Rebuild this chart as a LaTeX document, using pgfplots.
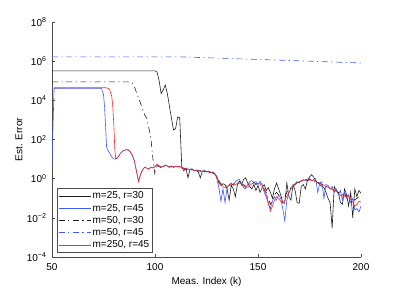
\documentclass[border=0pt]{standalone}
\usepackage{fontspec}
\setmainfont{Liberation Sans}
\usepackage{pgfplots}
\pgfplotsset{compat=1.18}
\definecolor{mblue}{RGB}{60,90,255}
\definecolor{mred}{RGB}{255,40,40}
\definecolor{mblack}{RGB}{30,30,30}
\begin{document}
\begin{tikzpicture}
\useasboundingbox (0,0) rectangle (399pt,292pt);
\begin{axis}[
  at={(52pt,35pt)}, anchor=south west,
  scale only axis, width=309pt, height=235pt,
  ymode=log, xmin=50, xmax=200, ymin=1e-4, ymax=1e8,
  axis lines*=left,
  axis line style={black!70, line width=0.5pt, -},
  tick align=inside,
  tick style={black!70, line width=0.5pt},
  major tick length=3pt,
  xtick={50,100,150,200},
  ytick={1e-4,1e-2,1,1e2,1e4,1e6,1e8},
  yticklabels={10\textsuperscript{−4},10\textsuperscript{−2},10\textsuperscript{0},10\textsuperscript{2},10\textsuperscript{4},10\textsuperscript{6},10\textsuperscript{8}},
  yminorticks=false, xminorticks=false,
  /pgf/number format/assume math mode=true,
  tick label style={font=\fontsize{10}{12}\selectfont},
  xticklabel style={yshift=-3pt},
  yticklabel style={xshift=-2pt},
  xlabel={Meas. Index (k)}, ylabel={Est. Error},
  label style={font=\fontsize{10}{12}\selectfont},
  xlabel style={at={(axis description cs:0.5,-0.106)}, anchor=center},
  ylabel style={at={(axis description cs:-0.107,0.5)}, anchor=center},
  legend style={at={(axis description cs:0.015,0.018)}, anchor=south west,
    draw=black!70, line width=0.5pt, inner sep=1.5pt,
    font=\fontsize{10}{12}\selectfont,
    nodes={inner sep=1.6pt, text height=7.2pt, text depth=1.8pt}},
  legend cell align=left,
  legend image code/.code={\draw[#1] (0pt,0pt) -- (32pt,0pt);},
  every axis plot/.append style={line width=0.6pt},
]
% m=25, r=30
\addplot[mblack] coordinates {
(50,3.2e5) (100,3.2e5) (101,2.8e5) (102,1e5) (103,2.2e4) (104,3.5e4) (105,6e4) (106,2.2e4)
(107,5e3) (108,1.2e3) (109,3e2) (110,3.6e2) (111,1.4e3) (112,1.3e3) (113,4.0)
(114,2.5) (115,3.5) (116,1.1) (117,3.0) (118,3.2) (119,2.5) (120,2.8) (121,2.2) (122,1.1)
(123,2.4) (124,2.6) (125,2.3) (126,2.4) (127,2.0) (128,2.2) (129,1.7) (130,1.3) (131,0.6)
(132,0.45) (133,0.55) (134,0.5) (135,0.3) (136,0.08) (137,0.45) (138,0.3) (139,0.12) (140,0.5)
(141,0.75) (142,0.5) (143,0.9) (144,1.1) (145,0.6) (146,0.4) (147,0.3) (148,0.5) (149,0.25)
(150,0.45) (151,0.2) (152,0.35) (153,0.5) (154,0.25) (155,0.35) (156,0.2) (157,0.1) (158,0.3)
(159,0.6) (160,0.3) (161,0.15) (162,0.06) (163,0.055) (164,0.6) (165,0.12) (166,0.08) (167,0.5)
(168,0.25) (169,0.06) (170,0.055) (171,0.4) (172,0.5) (173,0.3) (174,0.8) (175,1.2) (176,1.6)
(177,1.2) (178,0.8) (179,0.6) (180,0.5) (181,0.4) (182,0.35) (183,0.2) (184,0.1) (185,0.06)
(186,0.003) (187,0.4) (188,0.25) (189,0.2) (190,0.06) (191,0.05) (192,0.3) (193,0.15) (194,0.04)
(195,0.2) (196,0.01) (197,0.3) (198,0.12) (199,0.25) (200,0.18)
};
\addlegendentry{m=25, r=30}
% m=25, r=45
\addplot[mblue] coordinates {
(50,5) (51,4.1e4) (74,4.1e4) (75,2e4) (75.5,5e3) (76,5e2) (76.5,40) (77,30) (78,20) (79,13)
(80,10) (81,10.5) (82,12.5) (83,18) (84,24) (85,28) (86,30) (87,29) (88,23) (89,15) (90,7.5)
(91,2.4) (92,0.75) (93,1.7) (94,2.9) (95,3.8) (96,3.5) (97,3.0) (98,3.7) (99,3.6) (100,4.2)
(101,5.0) (102,4.6) (103,4.0) (104,4.4) (105,4.8) (106,4.3) (107,4.0) (108,4.4) (109,3.8)
(110,4.2) (111,4.0) (112,4.1) (113,3.7) (114,3.5) (115,3.1) (116,3.2) (117,2.9) (118,2.9)
(119,2.6) (120,2.7) (121,2.4) (122,2.6) (123,2.3) (124,2.4) (125,2.2) (126,2.3) (127,2.0)
(128,2.1) (129,1.9) (130,1.0) (131,0.35) (132,0.07) (133,0.3) (134,0.06) (135,0.35) (136,0.5)
(137,0.6) (138,0.45) (139,0.7) (140,0.85) (141,0.9) (142,0.6) (143,0.35) (144,0.3) (145,0.5)
(146,0.7) (147,0.8) (148,0.65) (149,0.7) (150,0.5) (151,0.75) (152,0.5) (153,0.2) (154,0.12)
(155,0.05) (156,0.03) (157,0.07) (158,0.12) (159,0.08) (160,0.15) (161,0.1) (162,0.03)
(163,0.007) (164,0.08) (165,0.18) (166,0.35) (167,0.45) (168,0.55) (169,0.7) (170,0.6)
(171,0.8) (172,0.9) (173,0.8) (174,0.95) (175,1.0) (176,0.8) (177,0.9) (178,1.0) (179,0.2)
(180,0.6) (181,0.7) (182,0.1) (183,0.5) (184,0.45) (185,0.3) (186,0.4) (187,0.2) (188,0.3)
(189,0.15) (190,0.25) (191,0.08) (192,0.2) (193,0.1) (194,0.15) (195,0.06) (196,0.1)
(197,0.025) (198,0.03) (199,0.02) (200,0.04)
};
\addlegendentry{m=25, r=45}
% m=50, r=30
\addplot[mblack, dash pattern=on 6pt off 3.5pt on 1.2pt off 3.5pt] coordinates {
(50,8.7e4) (88,8.7e4) (89,8.0e4) (90,5e4) (91,2.5e4) (92,1.3e4) (93,7e3) (94,3.5e3) (95,1.8e3)
(96,1.2e3) (97,4e2) (98,1.2e2) (99,10) (100,1.5) (101,4.5) (102,4.2) (103,3.5) (104,4.0)
(105,4.6) (106,4.2) (107,3.9) (108,4.3) (109,3.8) (110,4.2) (111,4.1) (112,4.0) (113,3.5)
(114,3.4) (115,3.0) (116,3.1) (117,2.9) (118,2.8) (119,2.8) (120,2.5) (121,2.6) (122,2.4)
(123,2.4) (124,2.2) (125,2.4) (126,2.1) (127,2.2) (128,1.9) (129,1.8) (130,1.2) (131,0.8)
(132,0.55) (133,0.5) (134,0.4) (135,0.5) (136,0.5) (137,0.45) (138,0.55) (139,0.5) (140,0.6)
(141,0.55) (142,0.45) (143,0.5) (144,0.4) (145,0.45) (146,0.55) (147,0.5) (148,0.65) (149,0.5)
(150,0.6) (151,0.5) (152,0.4) (153,0.3) (154,0.2) (155,0.1) (156,0.05) (157,0.08) (158,0.15)
(159,0.2) (160,0.15) (161,0.12) (162,0.1) (163,0.12) (164,0.2) (165,0.25) (166,0.35) (167,0.45)
(168,0.5) (169,0.65) (170,0.6) (171,0.75) (172,0.8) (173,0.9) (174,0.8) (175,0.9) (176,0.85)
(177,0.75) (178,0.8) (179,0.65) (180,0.6) (181,0.5) (182,0.5) (183,0.4) (184,0.4) (185,0.3)
(186,0.3) (187,0.25) (188,0.25) (189,0.2) (190,0.18) (191,0.15) (192,0.15) (193,0.13)
(194,0.15) (195,0.12) (196,0.1) (197,0.08) (198,0.1) (199,0.12) (200,0.15)
};
\addlegendentry{m=50, r=30}
% m=50, r=45
\addplot[mblue, dash pattern=on 6pt off 3.5pt on 1.2pt off 3.5pt] coordinates {
(50,1.66e6) (112,1.66e6) (130,1.44e6) (150,1.22e6) (170,1.04e6) (190,8.8e5) (200,8.1e5)
};
\addlegendentry{m=50, r=45}
% m=250, r=45
\addplot[mred] coordinates {
(51,4.4e4) (76,4.4e4) (77,4.2e4) (78,3.5e4) (79,1.6e4) (79.5,5e3) (80,6e2) (80.5,30) (81,10)
(82,12.5) (83,18) (84,24) (85,28) (86,30) (87,30) (88,24) (89,16) (90,8) (91,2.5) (92,0.7)
(93,1.6) (94,2.8) (95,3.9) (96,3.4) (97,3.2) (98,3.9) (99,3.5) (100,4.0) (101,5.6) (102,4.5)
(103,3.8) (104,4.2) (105,5.0) (106,4.5) (107,3.8) (108,4.2) (109,4.0) (110,4.3) (111,4.2)
(112,4.2) (113,3.6) (114,3.3) (115,3.2) (116,3.0) (117,3.0) (118,2.8) (119,2.75) (120,2.6)
(121,2.5) (122,2.5) (123,2.4) (124,2.3) (125,2.3) (126,2.2) (127,2.1) (128,2.0) (129,1.8)
(130,1.26) (131,0.71) (132,0.5) (133,0.4) (134,0.355) (135,0.4) (136,0.45) (137,0.5) (138,0.48)
(139,0.5) (140,0.56) (141,0.6) (142,0.52) (143,0.42) (144,0.36) (145,0.38) (146,0.45) (147,0.55)
(148,0.6) (149,0.58) (150,0.56) (151,0.6) (152,0.45) (153,0.25) (154,0.16) (155,0.063)
(156,0.022) (157,0.04) (158,0.08) (159,0.12) (160,0.1) (161,0.07) (162,0.056) (163,0.08)
(164,0.13) (165,0.2) (166,0.3) (167,0.4) (168,0.5) (169,0.6) (170,0.7) (171,0.78) (172,0.83)
(173,0.85) (174,0.87) (175,0.85) (176,0.83) (177,0.78) (178,0.7) (179,0.62) (180,0.56)
(181,0.5) (182,0.45) (183,0.4) (184,0.36) (185,0.32) (186,0.28) (187,0.25) (188,0.22)
(189,0.18) (190,0.14) (191,0.125) (192,0.126) (193,0.12) (194,0.12) (195,0.09) (196,0.063)
(197,0.038) (198,0.05) (199,0.07) (200,0.063)
};
\addlegendentry{m=250, r=45}
\end{axis}
\end{tikzpicture}
\end{document}
